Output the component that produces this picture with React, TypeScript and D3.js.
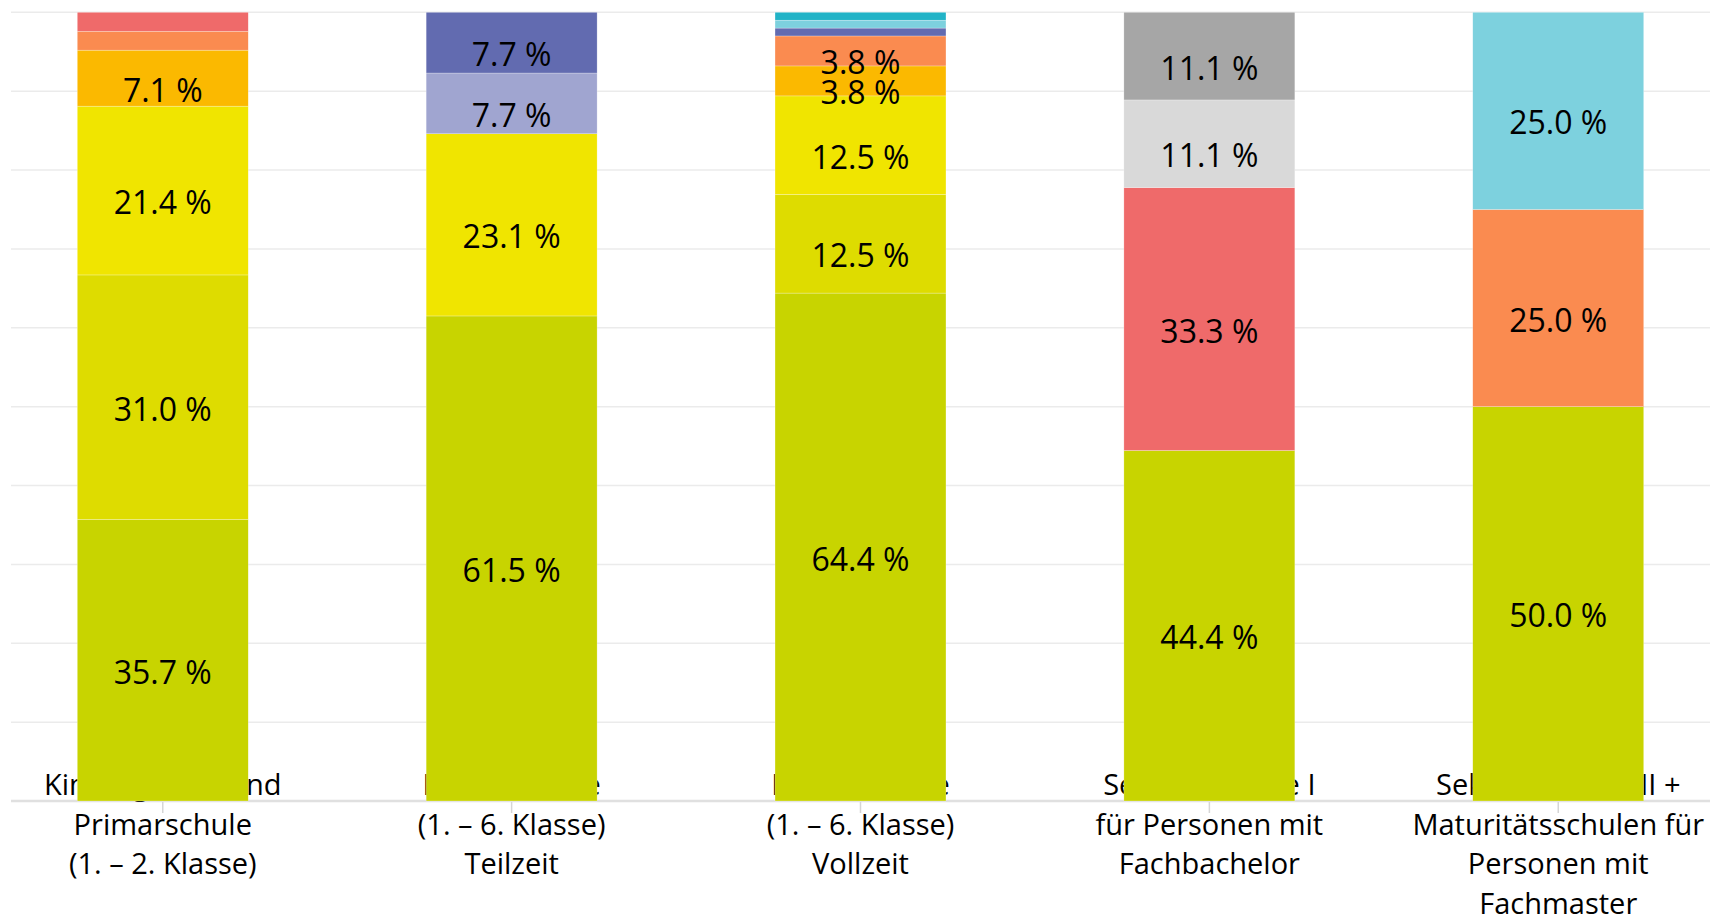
import React, { useEffect, useRef } from 'react';
import * as d3 from 'd3';

// categories (x axis), each label split into lines
const categories = [
  ['Kindergarten und', 'Primarschule', '(1. – 2. Klasse)'],
  ['Primarschule', '(1. – 6. Klasse)', 'Teilzeit'],
  ['Primarschule', '(1. – 6. Klasse)', 'Vollzeit'],
  ['Sekundarstufe I', 'für Personen mit', 'Fachbachelor'],
  ['Sekundarstufe II +', 'Maturitätsschulen für', 'Personen mit', 'Fachmaster'],
];

// series, stacked bottom to top (shares in %)
const seriesKeys = ['s1', 's2', 's3', 's4', 's5', 's6', 's7', 's8', 's9', 's10', 's11', 's12'];
const s1 = [35.7, 61.5, 64.4, 44.4, 50.0];
const s2 = [31.0, 0, 12.5, 0, 0];
const s3 = [21.4, 23.1, 12.5, 0, 0];
const s4 = [7.1, 0, 3.8, 0, 0];
const s5 = [2.4, 0, 3.8, 0, 25.0];
const s6 = [2.4, 0, 0, 33.3, 0];
const s7 = [0, 7.7, 0, 0, 0];
const s8 = [0, 7.7, 1.0, 0, 0];
const s9 = [0, 0, 1.0, 0, 25.0];
const s10 = [0, 0, 1.0, 0, 0];
const s11 = [0, 0, 0, 11.1, 0];
const s12 = [0, 0, 0, 11.1, 0];
const seriesValues = [s1, s2, s3, s4, s5, s6, s7, s8, s9, s10, s11, s12];

const colors = [
  '#c8d400', '#dedc00', '#f0e500', '#fbb900', '#fa8b50', '#ef6a6a',
  '#a0a5d0', '#626bb0', '#7dd1de', '#22b3c7', '#d9d9d9', '#a6a6a6',
];

const W = 1723;
const H = 920;

const App = () => {
  const ref = useRef(null);

  useEffect(() => {
    const svg = d3.select(ref.current);
    svg.selectAll('*').remove();

    const rows = categories.map((c, i) => {
      const row: any = { cat: i };
      seriesKeys.forEach((k, j) => (row[k] = seriesValues[j][i]));
      return row;
    });

    const stacked = d3.stack().keys(seriesKeys).offset(d3.stackOffsetExpand)(rows);

    const x = d3.scaleBand().domain(d3.range(categories.length).map(String))
      .range([11, 1710]).paddingInner(0.51).paddingOuter(0.19);
    const y = d3.scaleLinear().domain([0, 1]).range([801, 12.3]);
    const color = d3.scaleOrdinal().domain(seriesKeys).range(colors);

    const font = '"Open Sans", sans-serif';

    // gridlines
    svg.append('g')
      .selectAll('line')
      .data(y.ticks(10).filter(t => t > 0))
      .join('line')
      .attr('x1', 11).attr('x2', 1710)
      .attr('y1', d => y(d)).attr('y2', d => y(d))
      .attr('stroke', '#ebebeb').attr('stroke-width', 1.5);

    // x axis
    const xAxis = svg.append('g').attr('transform', `translate(0,${y(0)})`);
    xAxis.append('line')
      .attr('x1', 11).attr('x2', 1710)
      .attr('stroke', '#e0e0e0').attr('stroke-width', 2.5);
    const ticks = xAxis.selectAll('g.tick')
      .data(categories)
      .join('g')
      .attr('class', 'tick')
      .attr('transform', (d, i) => `translate(${x(String(i)) + x.bandwidth() / 2},0)`);
    ticks.append('line').attr('y1', 1).attr('y2', 12).attr('stroke', '#d6d6d6').attr('stroke-width', 1.5);
    ticks.append('text')
      .attr('text-anchor', 'middle')
      .attr('font-family', font)
      .attr('font-size', 29)
      .attr('fill', '#000')
      .selectAll('tspan')
      .data(d => d)
      .join('tspan')
      .attr('x', 0)
      .attr('y', (d, i) => -6 + i * 39.5)
      .text(d => d);

    // bars (drawn over the first label line)
    const layer = svg.append('g')
      .selectAll('g')
      .data(stacked)
      .join('g')
      .attr('fill', d => color(d.key));

    layer.selectAll('rect')
      .data(d => d)
      .join('rect')
      .attr('x', d => x(String(d.data.cat)))
      .attr('width', x.bandwidth())
      .attr('y', d => y(d[1]))
      .attr('height', d => y(d[0]) - y(d[1]))
      .attr('stroke', '#fff').attr('stroke-opacity', 0.5).attr('stroke-width', 0.5);

    // segment labels
    const labels = stacked.flatMap((s, j) => s.map(d => ({ d, v: seriesValues[j][d.data.cat] })))
      .filter(o => o.v >= 3);
    svg.append('g')
      .selectAll('text')
      .data(labels)
      .join('text')
      .attr('x', o => x(String(o.d.data.cat)) + x.bandwidth() / 2)
      .attr('y', o => (y(o.d[0]) + y(o.d[1])) / 2 + 12)
      .attr('dy', '0.36em')
      .attr('text-anchor', 'middle')
      .attr('font-family', font)
      .attr('font-size', 32)
      .attr('fill', '#000')
      .text(o => d3.format('.1f')(o.v) + ' %');
  }, []);

  return (
    <div style={{ position: 'absolute', left: 0, top: 0 }}>
      <svg ref={ref} width={W} height={H} style={{ display: 'block', background: '#fff' }}></svg>
    </div>
  );
};

export default App;
